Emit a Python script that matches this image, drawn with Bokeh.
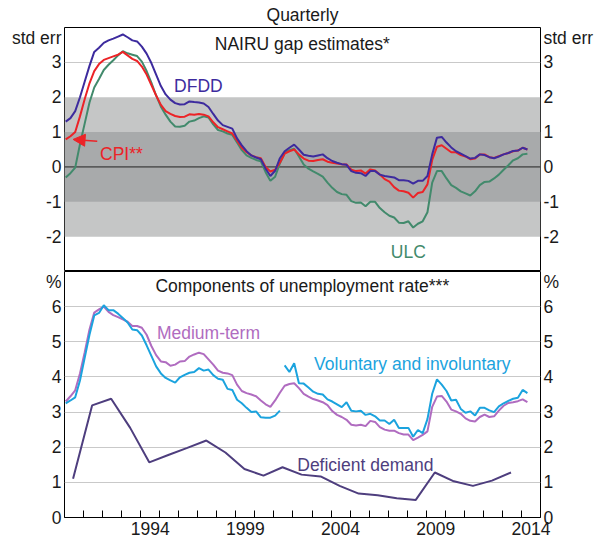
from bokeh.plotting import figure
from bokeh.layouts import column
from bokeh.models import (Range1d, FixedTicker, LinearAxis, BoxAnnotation, Span,
                          Label, Arrow, NormalHead, ColumnDataSource)
from bokeh.embed import file_html
from bokeh.resources import INLINE

# ---------------- data ----------------
n_q = 98
quarters = [1990.0625 + 0.25 * i for i in range(n_q)]   # 1990Q1 .. 2014Q2

dfdd = [1.30, 1.40, 1.60, 2.00, 2.45, 2.90, 3.30, 3.42, 3.56, 3.63,
        3.68, 3.74, 3.80, 3.72, 3.63, 3.60, 3.45, 3.25, 2.98, 2.65,
        2.32, 2.08, 1.93, 1.83, 1.79, 1.80, 1.88, 1.86, 1.85, 1.82,
        1.72, 1.52, 1.33, 1.20, 1.15, 1.10, 0.82, 0.62, 0.45, 0.33,
        0.27, 0.22, -0.05, -0.26, -0.11, 0.25, 0.45, 0.55, 0.64, 0.50,
        0.35, 0.32, 0.30, 0.33, 0.36, 0.25, 0.17, 0.12, 0.08, 0.06,
        -0.12, -0.17, -0.18, -0.26, -0.12, -0.12, -0.22, -0.26, -0.28, -0.30,
        -0.38, -0.38, -0.40, -0.48, -0.40, -0.40, -0.26, 0.36, 0.84, 0.86,
        0.70, 0.56, 0.45, 0.38, 0.31, 0.24, 0.26, 0.36, 0.34, 0.28,
        0.25, 0.30, 0.36, 0.40, 0.46, 0.47, 0.55, 0.50]

cpi = [0.79, 0.88, 1.00, 1.45, 1.95, 2.40, 2.75, 2.95, 3.07, 3.12,
       3.17, 3.22, 3.30, 3.20, 3.10, 3.04, 2.88, 2.65, 2.35, 2.05,
       1.78, 1.60, 1.52, 1.46, 1.43, 1.44, 1.51, 1.50, 1.52, 1.50,
       1.45, 1.28, 1.14, 1.08, 1.02, 0.96, 0.75, 0.55, 0.42, 0.33,
       0.28, 0.25, 0.00, -0.13, -0.08, 0.12, 0.38, 0.45, 0.50, 0.36,
       0.24, 0.18, 0.17, 0.20, 0.22, 0.15, 0.12, 0.10, 0.08, 0.07,
       -0.08, -0.12, -0.10, -0.19, -0.07, -0.10, -0.22, -0.35, -0.42, -0.58,
       -0.68, -0.70, -0.74, -0.88, -0.75, -0.72, -0.50, 0.20, 0.58, 0.62,
       0.52, 0.42, 0.42, 0.34, 0.30, 0.22, 0.24, 0.36, 0.36, 0.28,
       0.26, 0.31, 0.36, 0.40, 0.45, 0.47, 0.55, 0.50]

ulc = [-0.30, -0.18, -0.02, 0.65, 1.25, 1.85, 2.28, 2.52, 2.78, 2.93,
       3.06, 3.20, 3.32, 3.26, 3.22, 3.18, 3.02, 2.75, 2.42, 2.05,
       1.73, 1.50, 1.30, 1.16, 1.15, 1.18, 1.30, 1.33, 1.40, 1.45,
       1.42, 1.22, 1.06, 1.02, 0.96, 0.92, 0.70, 0.48, 0.33, 0.26,
       0.20, 0.16, -0.15, -0.40, -0.28, 0.10, 0.40, 0.48, 0.52, 0.30,
       0.07, -0.05, -0.13, -0.20, -0.28, -0.45, -0.60, -0.72, -0.78, -0.80,
       -0.98, -1.03, -1.02, -1.13, -1.00, -1.00, -1.18, -1.30, -1.40, -1.45,
       -1.60, -1.61, -1.56, -1.74, -1.63, -1.56, -1.30, -0.45, -0.12, -0.12,
       -0.33, -0.52, -0.60, -0.70, -0.76, -0.82, -0.70, -0.52, -0.43, -0.42,
       -0.33, -0.22, -0.08, 0.05, 0.19, 0.25, 0.36, 0.38]

medium_term = [3.30, 3.45, 3.62, 4.10, 4.70, 5.35, 5.83, 5.92, 6.00, 5.85,
               5.76, 5.70, 5.64, 5.57, 5.45, 5.45, 5.40, 5.20, 4.88, 4.62,
               4.44, 4.42, 4.32, 4.35, 4.44, 4.45, 4.58, 4.64, 4.69, 4.65,
               4.50, 4.35, 4.18, 4.12, 4.10, 4.05, 3.78, 3.60, 3.54, 3.50,
               3.45, 3.33, 3.22, 3.15, 3.33, 3.55, 3.75, 3.80, 3.82, 3.68,
               3.52, 3.44, 3.37, 3.33, 3.28, 3.20, 3.03, 2.92, 2.86, 2.78,
               2.64, 2.62, 2.64, 2.60, 2.75, 2.72, 2.57, 2.50, 2.47, 2.47,
               2.40, 2.36, 2.36, 2.20, 2.27, 2.35, 2.45, 3.15, 3.44, 3.46,
               3.30, 3.07, 3.02, 2.95, 2.82, 2.75, 2.73, 2.86, 2.93, 2.86,
               2.88, 3.04, 3.18, 3.26, 3.28, 3.31, 3.36, 3.28]

# voluntary and involuntary: two separate pieces (1990Q1-2001Q2, 2001Q3-2014Q2)
voluntary_1 = [3.25, 3.33, 3.42, 3.90, 4.55, 5.20, 5.75, 5.82, 6.04, 5.90,
               5.90, 5.80, 5.68, 5.55, 5.35, 5.33, 5.18, 4.90, 4.60, 4.30,
               4.10, 3.97, 3.90, 3.84, 3.99, 4.06, 4.12, 4.14, 4.25, 4.18,
               4.21, 4.05, 3.95, 3.92, 3.66, 3.63, 3.35, 3.25, 3.12, 3.00,
               3.02, 2.85, 2.84, 2.84, 2.90, 3.04]
voluntary_2 = [4.33, 4.14, 4.39, 3.82, 3.81, 3.70, 3.58, 3.52, 3.50, 3.36,
               3.30, 3.22, 3.14, 3.28, 3.04, 3.02, 3.04, 2.92, 2.95, 2.88,
               2.76, 2.76, 2.66, 2.78, 2.55, 2.55, 2.55, 2.30, 2.49, 2.40,
               2.80, 3.52, 3.93, 3.78, 3.60, 3.33, 3.35, 3.09, 2.98, 3.02,
               2.90, 3.12, 3.12, 3.05, 3.00, 3.16, 3.25, 3.32, 3.38, 3.41,
               3.63, 3.54]

dd_years = list(range(1990, 2014))
deficient_demand = [1.10, 3.19, 3.38, 2.55, 1.57, 1.78, 1.98, 2.19, 1.85, 1.38,
                    1.19, 1.43, 1.22, 1.17, 0.90, 0.68, 0.63, 0.55, 0.50, 1.28,
                    1.03, 0.90, 1.05, 1.28]
dd_x = [y + 0.45 for y in dd_years]

top_ticks = [-2, -1, 0, 1, 2, 3]
bottom_ticks = [0, 1, 2, 3, 4, 5, 6]
top_unit_label = "std err"
bottom_unit_label = "%"
year_ticks = [1994.5, 1999.5, 2004.5, 2009.5, 2014.5]
year_labels = ["1994", "1999", "2004", "2009", "2014"]
year_minor = list(range(1991, 2015))

# ---------------- styling ----------------
FONT = "Liberation Sans"
FS = "17.5px"
TXT = "#1a1a1a"
C_DFDD = "#3d2b9e"
C_CPI = "#ec2327"
C_ULC = "#428a6c"
C_MED = "#b06cc0"
C_VOL = "#1ba3de"
C_DD = "#4e3e7e"
BAND_LIGHT = "#c5c6c6"
BAND_DARK = "#a8aaab"
GRID = "#c9c9c9"

x_range = Range1d(1990, 2015)


def style_yaxis(ax, ticks, unit_pos, unit_text):
    ax.ticker = FixedTicker(ticks=ticks + [unit_pos])
    overrides = {t: "%d" % t for t in ticks}
    overrides[unit_pos] = unit_text
    ax.major_label_overrides = overrides
    ax.major_tick_in = 0
    ax.major_tick_out = 0
    ax.minor_tick_in = 0
    ax.minor_tick_out = 0
    ax.axis_line_color = None
    ax.major_label_standoff = 3
    ax.major_label_text_font = FONT
    ax.major_label_text_font_size = FS
    ax.major_label_text_color = TXT


def lbl(p, x, y, text, color=TXT, align="center"):
    p.add_layout(Label(x=x, y=y, text=text, text_align=align, text_baseline="middle",
                       text_font=FONT, text_font_size=FS, text_color=color))


# ---------------- top panel ----------------
p1 = figure(width=600, height=271, x_range=x_range, y_range=Range1d(-3, 4),
            output_backend="svg", toolbar_location=None, x_axis_location=None,
            min_border_left=64, min_border_right=60, min_border_top=25, min_border_bottom=0)
p1.title.text = "Quarterly"
p1.title.align = "center"
p1.title.text_font = FONT
p1.title.text_font_size = FS
p1.title.text_font_style = "normal"
p1.title.text_color = TXT
p1.title.standoff = 5
p1.outline_line_color = "black"
p1.outline_line_alpha = 1
p1.outline_line_width = 1
p1.xgrid.visible = False
p1.ygrid.ticker = FixedTicker(ticks=[3])
p1.ygrid.grid_line_color = GRID
style_yaxis(p1.yaxis[0], top_ticks, 3.69, top_unit_label)
r1 = LinearAxis()
style_yaxis(r1, top_ticks, 3.69, top_unit_label)
p1.add_layout(r1, "right")

p1.add_layout(BoxAnnotation(bottom=-2, top=2, fill_color=BAND_LIGHT, fill_alpha=1,
                            line_alpha=0, level="underlay"))
p1.add_layout(BoxAnnotation(bottom=-1, top=1, fill_color=BAND_DARK, fill_alpha=1,
                            line_alpha=0, level="underlay"))
p1.add_layout(Span(location=0, dimension="width", line_color="#222222", line_width=1,
                   level="underlay"))

src_top = ColumnDataSource(dict(t=quarters, dfdd=dfdd, cpi=cpi, ulc=ulc))
p1.line("t", "ulc", source=src_top, line_color=C_ULC, line_width=2)
p1.line("t", "cpi", source=src_top, line_color=C_CPI, line_width=2)
p1.line("t", "dfdd", source=src_top, line_color=C_DFDD, line_width=2)

p1.add_layout(Arrow(end=NormalHead(size=12, fill_color=C_CPI, line_color=C_CPI),
                    x_start=1991.72, y_start=0.74, x_end=1990.45, y_end=0.79,
                    line_color=C_CPI, line_width=1.5))

lbl(p1, 2002.49, 3.52, "NAIRU gap estimates*")
lbl(p1, 1997.03, 2.33, "DFDD", C_DFDD)
lbl(p1, 1992.99, 0.37, "CPI**", C_CPI)
lbl(p1, 2008.06, -2.44, "ULC", C_ULC)

# ---------------- bottom panel ----------------
p2 = figure(width=600, height=268, x_range=x_range, y_range=Range1d(0, 7),
            output_backend="svg", toolbar_location=None,
            min_border_left=64, min_border_right=60, min_border_top=0, min_border_bottom=22)
p2.outline_line_color = "black"
p2.outline_line_alpha = 1
p2.outline_line_width = 1
p2.xgrid.visible = False
p2.ygrid.ticker = FixedTicker(ticks=bottom_ticks[1:])
p2.ygrid.grid_line_color = GRID
style_yaxis(p2.yaxis[0], bottom_ticks, 6.78, bottom_unit_label)
r2 = LinearAxis()
style_yaxis(r2, bottom_ticks, 6.78, bottom_unit_label)
p2.add_layout(r2, "right")

xa = p2.xaxis[0]
xa.ticker = FixedTicker(ticks=year_ticks, minor_ticks=year_minor)
xa.major_label_overrides = {t: s for t, s in zip(year_ticks, year_labels)}
xa.major_tick_in = 0
xa.major_tick_out = 0
xa.minor_tick_in = 7
xa.minor_tick_out = 0
xa.minor_tick_line_color = "black"
xa.axis_line_color = "black"
xa.major_label_standoff = 4
xa.major_label_text_font = FONT
xa.major_label_text_font_size = FS
xa.major_label_text_color = TXT

src_q = ColumnDataSource(dict(t=quarters, med=medium_term))
src_v1 = ColumnDataSource(dict(t=quarters[:len(voluntary_1)], v=voluntary_1))
src_v2 = ColumnDataSource(dict(t=quarters[len(voluntary_1):], v=voluntary_2))
src_dd = ColumnDataSource(dict(t=dd_x, v=deficient_demand))
p2.line("t", "v", source=src_dd, line_color=C_DD, line_width=2)
p2.line("t", "med", source=src_q, line_color=C_MED, line_width=2)
p2.line("t", "v", source=src_v1, line_color=C_VOL, line_width=2)
p2.line("t", "v", source=src_v2, line_color=C_VOL, line_width=2)

lbl(p2, 2002.49, 6.58, "Components of unemployment rate***")
lbl(p2, 1997.56, 5.24, "Medium-term", C_MED)
lbl(p2, 2008.27, 4.36, "Voluntary and involuntary", C_VOL)
lbl(p2, 2005.80, 1.48, "Deficient demand", C_DD)

layout = column(p1, p2)
open("out.html", "w").write(file_html(layout, INLINE))
